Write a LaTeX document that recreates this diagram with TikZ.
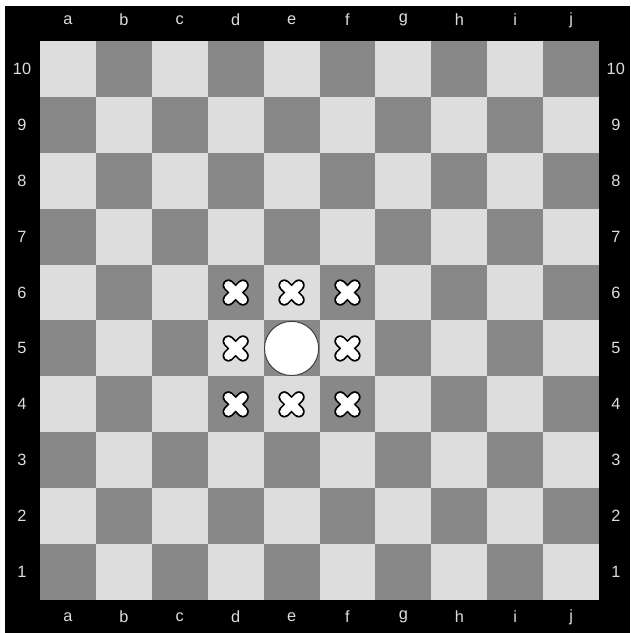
\documentclass[tikz,border=0pt]{standalone}
\usepackage{fontspec}
\setmainfont{Liberation Sans}
\usetikzlibrary{calc}
\definecolor{lightsq}{HTML}{DDDDDD}
\definecolor{darksq}{HTML}{888888}
\tikzset{
    coord/.style={text=lightsq, font=\fontsize{8.3}{9}\selectfont},
    cross/.style={line cap=round, line width=#1},
}
\begin{document}
\begin{tikzpicture}[x=1cm,y=1cm]
    \useasboundingbox (-0.7156,-0.590) rectangle (10.555,10.733);
    \fill[black] (-0.626,-0.590) rectangle (10.555,10.626);
    \foreach \x in {0,...,9} \foreach \y in {0,...,9}
    {
        \pgfmathparse{mod(\x+\y,2) ? "lightsq" : "darksq"}
        \edef\colour{\pgfmathresult}
        \path[fill=\colour] (\x,\y) rectangle ++ (1,1);
    }
    \foreach \l [count=\i from 0] in {a,b,c,d,e,f,g,h,i,j}
    {
        \node[coord] (top-\l) at (\i+0.5,10.376) {\l};
        \node[coord] (bot-\l) at (\i+0.5,-0.304) {\l};
    }
    \foreach \n in {1,...,10}
    {
        \node[coord] (left-\n) at (-0.322,\n-0.5) {\n};
        \node[coord] (right-\n) at (10.30,\n-0.5) {\n};
    }
    % the piece
    \node[circle, draw=black!75, line width=0.5pt, fill=white,
          minimum size=0.97cm, inner sep=0pt] (piece) at (4.5,4.5) {};
    % squares it can reach
    \foreach \x/\y in {3/3,3/4,3/5,4/3,4/5,5/3,5/4,5/5}
    {
        \coordinate (mark-\x-\y) at (\x+0.5,\y+0.5);
        \draw[cross=6pt, black] ($(mark-\x-\y)+(-0.13,-0.13)$) -- ++(0.26,0.26)
            ($(mark-\x-\y)+(-0.13,0.13)$) -- ++(0.26,-0.26);
        \draw[cross=4.3pt, white] ($(mark-\x-\y)+(-0.13,-0.13)$) -- ++(0.26,0.26)
            ($(mark-\x-\y)+(-0.13,0.13)$) -- ++(0.26,-0.26);
    }
\end{tikzpicture}
\end{document}
